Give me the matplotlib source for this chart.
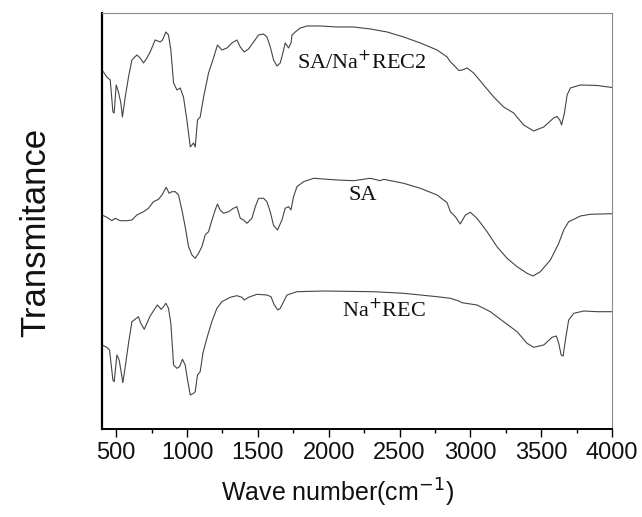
import matplotlib.pyplot as plt
from matplotlib.ticker import MultipleLocator

# FTIR spectra, values (transmittance in arbitrary units)
wn_top = [400, 434, 458, 477, 486, 500, 516, 533, 544, 564, 587, 611, 646, 669, 693, 717, 740, 775, 811, 827,
          851, 869, 886, 905, 929, 952, 975, 999, 1023, 1046, 1058, 1074, 1093, 1117, 1152, 1187, 1215, 1246,
          1282, 1317, 1352, 1376, 1404, 1434, 1470, 1505, 1540, 1564, 1588, 1611, 1635, 1658, 1682, 1693, 1717,
          1734, 1741, 1764, 1799, 1847, 1941, 2058, 2176, 2294, 2412, 2529, 2647, 2765, 2836, 2859, 2883, 2918,
          2944, 2977, 3023, 3094, 3165, 3235, 3306, 3376, 3447, 3518, 3588, 3612, 3631, 3644, 3664, 3683, 3706,
          3777, 3895, 4000]
t_top = [359, 352, 349, 317, 316, 344, 337, 326, 312, 332, 352, 369, 374, 371, 366, 371, 377, 389, 387, 389,
         397, 394, 379, 346, 339, 341, 332, 309, 282, 286, 282, 309, 312, 332, 356, 371, 384, 379,
         381, 386, 389, 382, 377, 380, 387, 394, 395, 392, 382, 369, 363, 366, 379, 386, 381,
         386, 394, 397, 401, 403, 403, 402, 402, 400, 397, 392, 386, 379, 372, 367, 364, 358.5,
         359, 361, 356, 344, 332, 322, 316, 304, 298, 302, 311, 312.5, 309, 304, 316, 334, 341,
         344, 343.5, 341.5]

wn_sa = [400, 434, 470, 493, 528, 576, 611, 646, 693, 728, 763, 799, 823, 853, 874, 893, 917, 940, 964, 987,
         1011, 1035, 1058, 1081, 1105, 1128, 1152, 1176, 1199, 1215, 1234, 1258, 1293, 1328, 1352, 1376, 1399,
         1423, 1458, 1482, 1505, 1540, 1564, 1588, 1611, 1639, 1670, 1693, 1717, 1734, 1752, 1776, 1823, 1894,
         2059, 2176, 2294, 2364, 2388, 2529, 2647, 2765, 2811, 2835, 2859, 2894, 2929, 2965, 3000, 3047, 3118,
         3188, 3259, 3330, 3400, 3442, 3494, 3565, 3624, 3659, 3694, 3730, 3777, 3847, 4000]
t_sa = [214, 211.7, 208.3, 210.7, 208.3, 208.3, 209, 214, 217.3, 220.7, 227.3, 229.7, 234, 241.7, 235.7, 237.3,
        237.3, 234, 219, 202.3, 182.3, 174, 170.7, 175.7, 182.3, 194, 197.3, 209, 219, 225, 219, 215.7, 217.3,
        220.7, 222.3, 210.7, 209, 205.7, 210.7, 222.3, 230.7, 230.7, 227.3, 217, 203.5, 199, 209, 220.7, 222.3,
        219, 232.3, 242.3, 247.3, 250.7, 249, 248.3, 250.7, 248.3, 249.7, 245.7, 240.7, 234, 229, 226.5, 217.3,
        212.3, 205, 214, 216.7, 210.7, 197.3, 182.3, 170.7, 162.3, 155.7, 153, 157.3, 169, 185.7, 199, 207.3,
        209.7, 213, 214.7, 215.3]

wn_rec = [400, 434, 453, 477, 486, 505, 521, 533, 547, 564, 587, 611, 634, 657, 674, 698, 717, 740, 775, 791,
          818, 834, 851, 869, 886, 905, 929, 947, 968, 987, 1004, 1023, 1046, 1058, 1074, 1093, 1112, 1140, 1175,
          1211, 1246, 1305, 1352, 1388, 1404, 1434, 1494, 1564, 1593, 1616, 1641, 1658, 1706, 1776, 1964, 2317,
          2529, 2765, 2859, 2918, 2941, 3047, 3141, 3235, 3330, 3400, 3447, 3518, 3577, 3607, 3624, 3641, 3655,
          3671, 3694, 3730, 3800, 3895, 4000]
t_rec = [84, 81.7, 79, 49, 47.3, 74, 69, 59, 46.3, 62.3, 85.7, 107.3, 109.7, 112.3, 105.7, 99.7, 105.7, 113,
         120.7, 124, 119.7, 122.3, 125.7, 120.7, 105.7, 64, 60.7, 62.3, 69.7, 64, 49, 34, 35.7, 37.3, 54, 57.3,
         75.7, 90.7, 107.3, 120.7, 127.3, 131.7, 133.3, 131.7, 129, 131.7, 134.7, 134, 132.3, 124, 119, 120.7,
         134, 137.3, 138, 137.3, 135.7, 132.3, 130.7, 128, 126.3, 124, 117.3, 107.3, 97.3, 85.7, 81.7, 84, 91.7,
         93, 85.7, 74, 73, 89, 109, 115.7, 118, 117.3, 117.3]

fig = plt.figure(figsize=(6.42, 5.17), dpi=100)
ax = fig.add_axes([0.1589, 0.1702, 0.7944, 0.8047])

lc = '#444444'
ax.plot(wn_top, t_top, color=lc, lw=0.8)
ax.plot(wn_sa, t_sa, color=lc, lw=0.8)
ax.plot(wn_rec, t_rec, color=lc, lw=0.8)

serif = dict(family='Liberation Serif', fontsize=16, color='#111111', va='center')
ax.text(1778, 367, 'SA/Na$^{+}$REC2', ha='left', **serif)
ax.text(2244, 233, 'SA', ha='center', **serif)
ax.text(2094, 119, 'Na$^{+}$REC', ha='left', **serif)

ax.set_xlim(400, 4000)
ax.set_ylim(0, 416)
ax.xaxis.set_major_locator(MultipleLocator(500))
ax.xaxis.set_minor_locator(MultipleLocator(250))
ax.set_yticks([])
ax.tick_params(axis='x', which='major', direction='out', length=6, width=1, labelsize=17,
               labelcolor='#111111', pad=3)
ax.tick_params(axis='x', which='minor', direction='out', length=3, width=1)
for lab in ax.get_xticklabels():
    lab.set_family('Liberation Sans')

ax.spines['left'].set_linewidth(1.6)
ax.spines['bottom'].set_linewidth(1.4)
ax.spines['top'].set_color('#8a8a8a')
ax.spines['right'].set_color('#8a8a8a')

# axis titles sit off-centre in the original, so place them on the figure
fig.text(337 / 642, 1 - 493 / 517, 'Wave number(cm$^{-1}$)', family='Liberation Sans', fontsize=18,
         color='#111111', ha='center', va='center')
fig.text(36 / 642, 1 - 232 / 517, 'Transmitance', family='Liberation Sans', fontsize=25,
         color='#111111', ha='center', va='center', rotation=90)

fig.savefig('out.png', dpi=100)
